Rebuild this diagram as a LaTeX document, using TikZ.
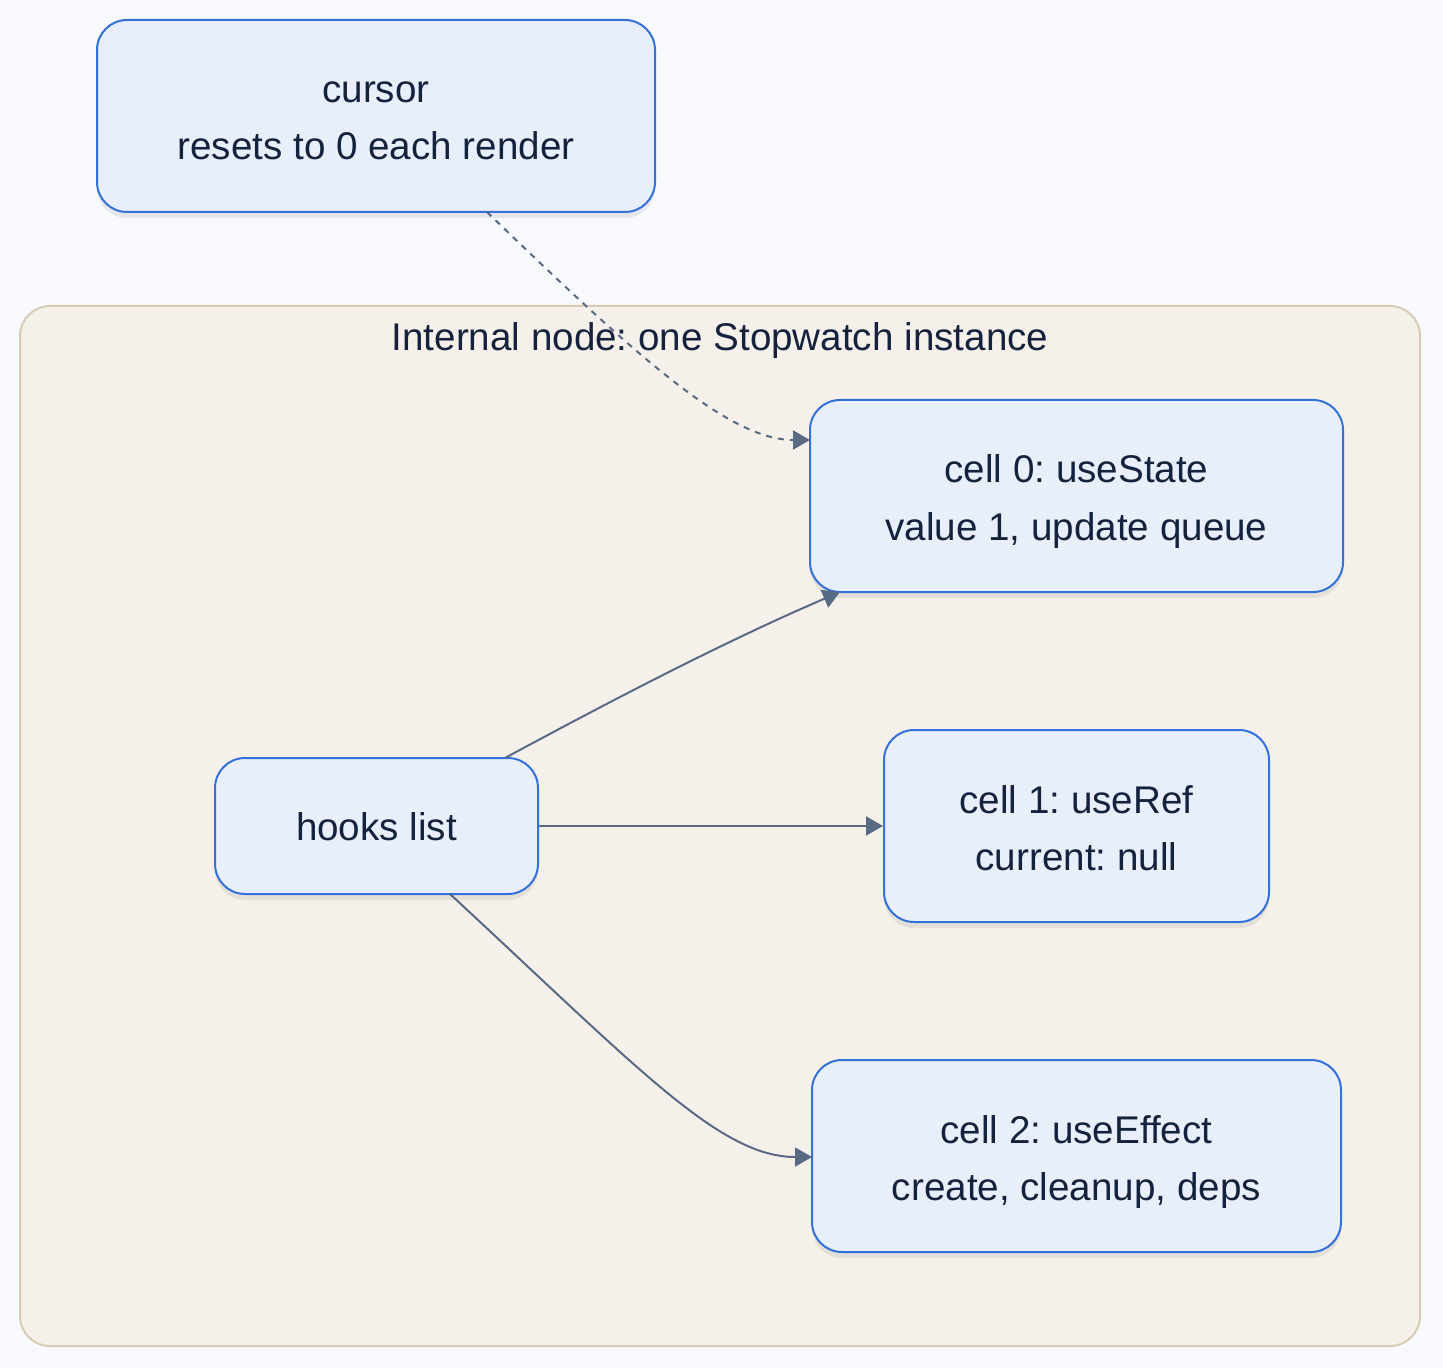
\documentclass[tikz,border=0pt]{standalone}
\usepackage{fontspec}
\setmainfont{Liberation Sans}
\usetikzlibrary{arrows.meta,shadows}
\definecolor{bgc}{HTML}{F7F9FD}
\definecolor{clfill}{HTML}{F5F1EA}
\definecolor{cldraw}{HTML}{D8CCB5}
\definecolor{nfill}{HTML}{E8EFFB}
\definecolor{ndraw}{HTML}{3571DB}
\definecolor{txt}{HTML}{15223D}
\definecolor{edge}{HTML}{596A84}
\newcommand{\topstrut}{\rule{0pt}{20.5pt}}
\newcommand{\botstrut}{\rule[-5pt]{0pt}{5pt}}
\tikzset{
  box/.style={draw=ndraw, fill=nfill, line width=1pt, rounded corners=15pt,
    align=center, text=txt, font=\fontsize{19.3}{28.5}\selectfont\frenchspacing, inner sep=0pt,
    drop shadow={shadow xshift=0pt, shadow yshift=-3pt, opacity=0.07, fill=black}},
  conn/.style={draw=edge, line width=1pt, -{Triangle[length=8.5pt,width=9.5pt]}},
  dconn/.style={conn, dash pattern=on 3pt off 3pt}
}
\begin{document}
\begin{tikzpicture}[x=0.5pt,y=-0.5pt]
\useasboundingbox (0,0) rectangle (1443,1368);
\fill[bgc] (0,0) rectangle (1443,1368);
\draw[fill=clfill, draw=cldraw, line width=1pt, rounded corners=15pt] (20,306) rectangle (1420,1346);
\node[text=txt, font=\fontsize{19.3}{20}\selectfont\frenchspacing, anchor=center] (cl) at (720,341) {Internal node: one Stopwatch instance};

\node[box, minimum width=279pt, minimum height=96pt] (cursor) at (376,116) {\topstrut cursor\\resets to 0 each render\botstrut};
\node[box, minimum width=266.5pt, minimum height=96pt] (c0) at (1076.5,496) {\topstrut cell 0: useState\\value 1, update queue\botstrut};
\node[box, minimum width=192.5pt, minimum height=96pt] (c1) at (1076.5,826) {\topstrut cell 1: useRef\\current: null\botstrut};
\node[box, minimum width=264.5pt, minimum height=96pt] (c2) at (1076.5,1156) {\topstrut cell 2: useEffect\\create, cleanup, deps\botstrut};
\node[box, minimum width=161.5pt, minimum height=68pt] (hl) at (376.5,826) {\rule{0pt}{16pt}hooks list\rule[-2pt]{0pt}{2pt}};

\coordinate (d0) at (487,212);
\coordinate (d1) at (810,440);
\draw[dconn] (d0) .. controls (640,360) and (730,440) .. (d1);

\coordinate (h0) at (505,758);
\coordinate (e0) at (840,592);
\draw[conn] (h0) .. controls (640,685) and (740,635) .. (e0);

\draw[conn] (hl.east) -- (c1.west);

\coordinate (h2) at (450,894);
\coordinate (e2) at (812,1157);
\draw[conn] (h2) .. controls (640,1070) and (720,1157) .. (e2);
\end{tikzpicture}
\end{document}
